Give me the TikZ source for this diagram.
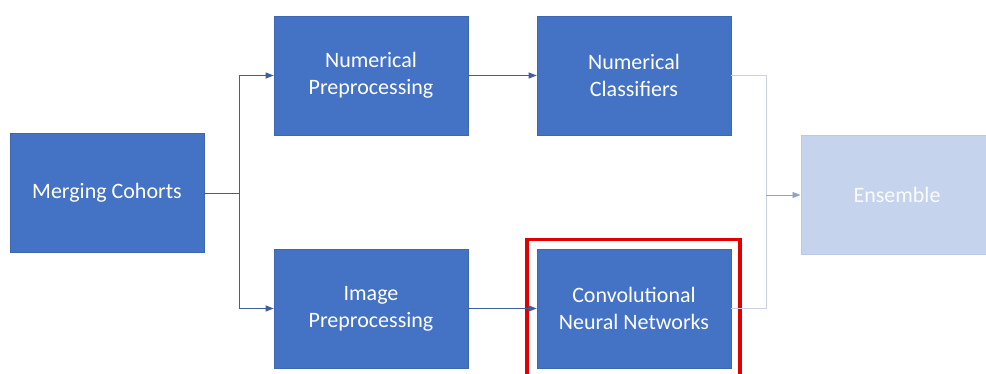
\documentclass[tikz,border=0pt]{standalone}
\usepackage{fontspec}
\setmainfont{Carlito}
\usetikzlibrary{arrows.meta}
\definecolor{boxblue}{HTML}{4472C4}
\definecolor{boxedge}{HTML}{3D67B3}
\definecolor{fadebox}{HTML}{C5D3EC}
\definecolor{fadeedge}{HTML}{B9C8E4}
\definecolor{linkblue}{HTML}{3F5F9A}
\definecolor{fadelink}{HTML}{C9D1DF}
\definecolor{fadearrow}{HTML}{8FA2C8}
\definecolor{hilite}{HTML}{E00000}
\tikzset{
  stage/.style={rectangle, fill=boxblue, draw=boxedge, line width=0.6pt,
    minimum width=194pt, minimum height=119pt, inner sep=0pt,
    text=white, align=center, font=\fontsize{22}{27}\selectfont},
  fadestage/.style={stage, fill=fadebox, draw=fadeedge, text=white!92!fadebox},
  link/.style={draw=linkblue, line width=0.9pt},
  arrowlink/.style={link, -{Triangle[length=8pt,width=6pt]}},
  fadelinkline/.style={draw=fadelink, line width=0.9pt},
  fadearrowlink/.style={draw=fadearrow, line width=0.9pt, -{Triangle[length=8pt,width=6pt]}},
}
\begin{document}
\begin{tikzpicture}[x=1pt,y=-1pt]
  \useasboundingbox (0,0) rectangle (986,374);
  \fill[white] (0,0) rectangle (986,374);

  % processing stages
  \node[stage] (merge) at (107,193) {Merging Cohorts};
  \node[stage] (numpre) at (371,75.5) {Numerical\\Preprocessing};
  \node[stage] (numcls) at (634,75.5) {Numerical\\Classifiers};
  \node[stage] (imgpre) at (371,308.5) {Image\\Preprocessing};
  \node[stage] (cnn) at (634,308.5) {Convolutional\\Neural Networks};
  \node[fadestage, minimum width=200pt, anchor=west] (ens) at (800.5,195) {};
  \node[text=white!92!fadebox, font=\fontsize{22}{27}\selectfont] (enslabel) at (897,195) {Ensemble};

  % highlight around the CNN stage
  \draw[hilite, line width=3.5pt] (527,380) -- (527,239.5) -- (740,239.5) -- (740,380);

  % branch points
  \coordinate (split) at (239,193);
  \coordinate (join) at (766,195);

  % split from merging into the two preprocessing paths
  \draw[link] (merge.east) -- (split);
  \draw[arrowlink] (split) |- (numpre.west);
  \draw[arrowlink] (split) |- (imgpre.west);

  % preprocessing into classifiers
  \draw[arrowlink] (numpre.east) -- (numcls.west);
  \draw[arrowlink] (imgpre.east) -- (cnn.west);

  % faded joins into the ensemble
  \draw[fadelinkline] (numcls.east) -| (join);
  \draw[fadelinkline] (cnn.east) -| (join);
  \draw[fadearrowlink] (join) -- (ens.west);
\end{tikzpicture}
\end{document}
